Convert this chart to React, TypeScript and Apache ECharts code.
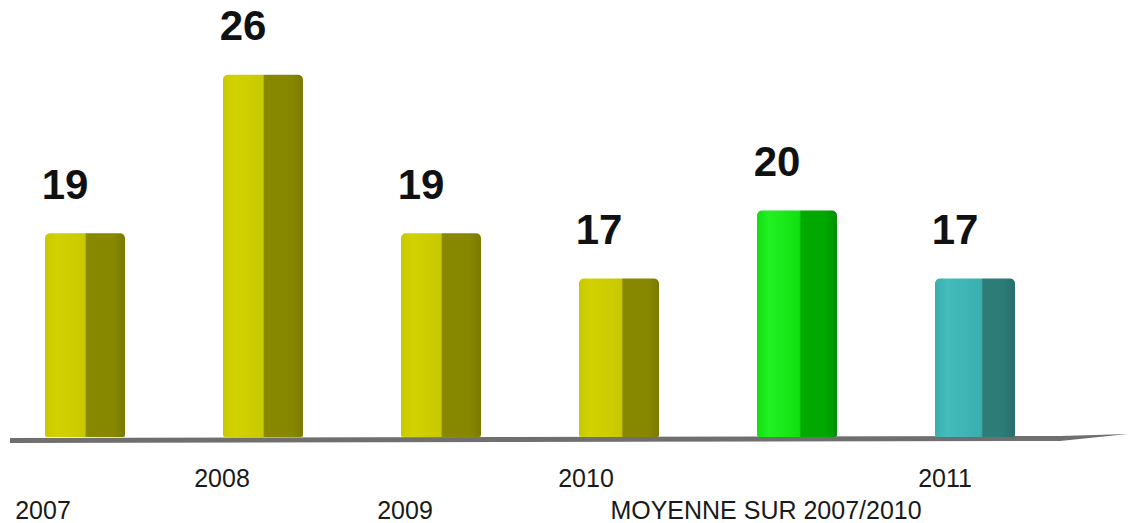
import React, { useEffect, useRef } from "react";
import * as echarts from "echarts";

const categories = ["2007", "2008", "2009", "2010", "MOYENNE SUR 2007/2010", "2011"];
const values = [19, 26, 19, 17, 20, 17];
const labelRow = ["low", "high", "low", "high", "low", "high"];
const labelShift = [84, 82, 72, 66, 62, 60];

const yellow = { light: "#d2d200", mid: "#c8c800", dark: "#888800", darker: "#7a7a00" };
const green = { light: "#22f022", mid: "#10e010", dark: "#00a800", darker: "#009000" };
const teal = { light: "#44bcbc", mid: "#3aaeae", dark: "#2c7c78", darker: "#276e6a" };
const barPalettes = [yellow, yellow, yellow, yellow, green, teal];

function cyl(p: { light: string; mid: string; dark: string; darker: string }, split: number) {
  return new echarts.graphic.LinearGradient(0, 0, 1, 0, [
    { offset: 0, color: p.mid },
    { offset: 0.15, color: p.light },
    { offset: split - 0.02, color: p.mid },
    { offset: split, color: p.dark },
    { offset: 0.85, color: p.dark },
    { offset: 1, color: p.darker },
  ]);
}

export default function App() {
  const ref = useRef<HTMLDivElement>(null);
  useEffect(() => {
    if (!ref.current) return;
    const chart = echarts.init(ref.current, undefined, { renderer: "svg" });
    const splits = [0.52, 0.52, 0.52, 0.55, 0.55, 0.6];
    chart.setOption({
      animation: false,
      backgroundColor: "#ffffff",
      grid: { left: 0, width: 1068, top: 0, bottom: 84, containLabel: false },
      graphic: [
        {
          type: "polygon",
          z: 0,
          shape: {
            points: [
              [14, 438],
              [1064, 436],
              [1132, 434],
              [1064, 441],
              [14, 443],
            ],
          },
          style: { fill: "#6f6f6f" },
        },
      ],
      xAxis: {
        type: "category",
        data: categories.map((c, i) => ({
          value: c,
          textStyle: {
            padding: [labelRow[i] === "low" ? 32 : 0, labelShift[i], 0, 0],
          },
        })),
        axisLine: { show: false },
        axisTick: { show: false },
        axisLabel: {
          interval: 0,
          margin: 28,
          color: "#1a1a1a",
          fontSize: 25,
          fontFamily: "Liberation Sans, Arial, sans-serif",
          verticalAlign: "top",
          lineHeight: 26,
        },
      },
      yAxis: {
        type: "value",
        min: 10,
        max: 29.3,
        show: false,
        splitLine: { show: false },
      },
      series: [
        {
          type: "bar",
          barWidth: 80,
          data: values.map((v, i) => ({
            value: v,
            itemStyle: {
              color: cyl(barPalettes[i], splits[i]),
              borderRadius: [5, 5, 2, 2],
            },
          })),
          label: {
            show: true,
            position: "top",
            distance: 28,
            offset: [-20, 0],
            color: "#111111",
            fontSize: 42,
            fontWeight: "bold",
            fontFamily: "Liberation Sans, Arial, sans-serif",
          },
        },
      ],
    });
    return () => chart.dispose();
  }, []);
  return (
    <div
      ref={ref}
      style={{ position: "fixed", left: -4, top: 0, width: 1134, height: 523, background: "#fff" }}
    />
  );
}
